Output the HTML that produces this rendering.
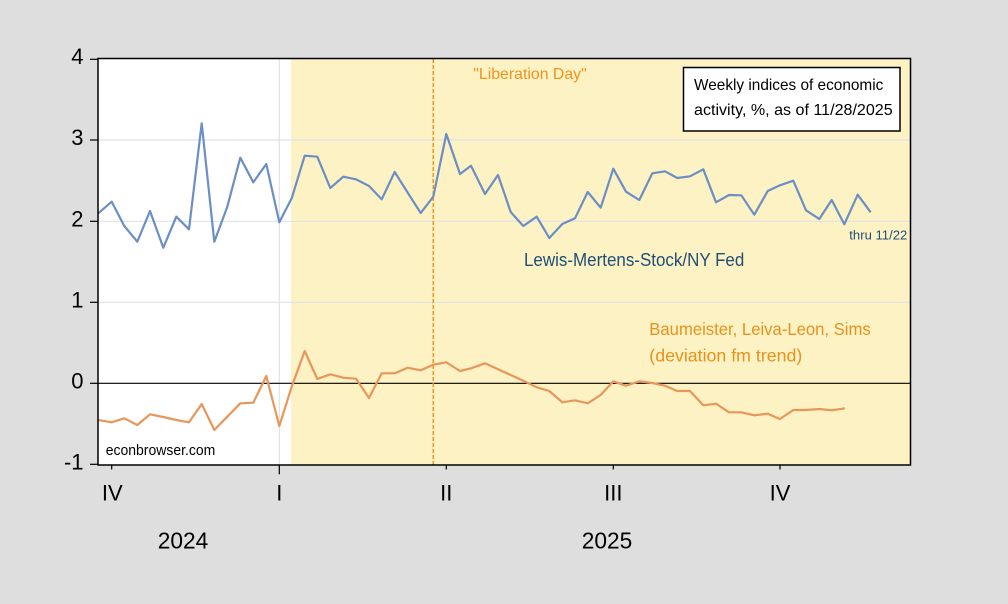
<!DOCTYPE html>
<html>
<head>
<meta charset="utf-8">
<style>
html,body{margin:0;padding:0;background:#dedede;}
svg{display:block;}
text{font-family:"Liberation Sans",sans-serif;}
</style>
</head>
<body>
<svg width="1008" height="604" viewBox="0 0 1008 604" xmlns="http://www.w3.org/2000/svg">
<rect x="0" y="0" width="1008" height="604" fill="#dedede"/>
<!-- plot area -->
<rect x="98" y="58.5" width="812.5" height="406.5" fill="#ffffff"/>
<rect x="291" y="58.5" width="619.5" height="406.5" fill="#fdf2c4"/>
<!-- gridlines -->
<line x1="279.3" y1="58.5" x2="279.3" y2="465" stroke="#e2e2e2" stroke-width="1.2"/>
<line x1="98" y1="140" x2="910.5" y2="140" stroke="#e0e2e8" stroke-width="1.2"/>
<line x1="98" y1="221.3" x2="910.5" y2="221.3" stroke="#e0e2e8" stroke-width="1.2"/>
<line x1="98" y1="302.3" x2="910.5" y2="302.3" stroke="#e0e2e8" stroke-width="1.2"/>
<!-- zero line -->
<line x1="98" y1="383.3" x2="910.5" y2="383.3" stroke="#000" stroke-width="1.2"/>
<!-- dashed liberation day -->
<line x1="433.3" y1="59" x2="433.3" y2="465" stroke="#f39418" stroke-width="1.5" stroke-dasharray="4,2"/>
<!-- blue series -->
<polyline fill="none" stroke="#6b8fc5" stroke-width="2.2" stroke-linejoin="round" points="98.3,213.3 111.7,201.7 124.3,226 137.3,241.7 150,211 163.3,247.7 176.3,216.7 189,229.3 201.7,123.3 214.3,241.7 227.3,206.7 240.3,157.7 253.3,182.3 266.3,164 279.3,222.3 291.7,198.3 304.7,155.7 317.3,156.7 330.3,188 343.3,176.7 356,179.3 369,186 381.7,199.3 394.7,172 407.7,192.7 420.7,213 433.3,196.7 446.3,134 460,174 471,165.7 485,194 498,175 510.7,212 523.3,226 536.7,216.7 549.3,238 562.3,224 575,218.3 587.7,192 600.7,207.7 613.3,168.7 626,191.7 639.3,200 652.3,173.3 665,171.3 677.3,178 690,176.3 703.3,169.3 716,202.3 729,195 741.3,195.3 754.3,214.7 767.7,191 780,185.3 793.3,180.7 806,210.3 819.3,219 831.7,200 844.3,224.3 857.7,194.7 870.7,212.3"/>
<!-- orange series -->
<polyline fill="none" stroke="#e8965a" stroke-width="2.2" stroke-linejoin="round" points="98.3,420 111.7,422.3 124.3,418.3 137.3,425 150,414.3 163.3,417 176.3,420 189,422.3 201.7,404 214.3,430 227.3,416.7 240.3,403.3 253.3,402.7 266.3,376 279.3,426 291.7,386.7 304.7,351 317.3,379 330.3,374.3 343.3,377.7 356,378.7 369,398 381.7,373.3 394.7,373.3 407.7,367.7 420.7,370.3 433.3,364.7 446.3,362.3 460,371 471,368.3 485,363.3 498,369.3 510.7,375 523.3,380.7 536.7,387.3 549.3,391 562.3,402.3 575,400.3 587.7,403.3 600.7,395 613.3,381.3 626,385.7 639.3,381.3 652.3,383 665,385.7 677.3,391 690,391 703.3,405.3 716,403.7 729,412.3 741.3,412.3 754.3,415.3 767.7,413.7 780,419 793.3,410 806,410 819.3,409 831.7,410.3 845,408.3"/>
<!-- plot border -->
<rect x="98" y="58.5" width="812.5" height="406.5" fill="none" stroke="#000" stroke-width="1.5"/>
<!-- y ticks -->
<g stroke="#000" stroke-width="1.2">
<line x1="90" y1="59.3" x2="98" y2="59.3"/>
<line x1="90" y1="140" x2="98" y2="140"/>
<line x1="90" y1="221.3" x2="98" y2="221.3"/>
<line x1="90" y1="302.3" x2="98" y2="302.3"/>
<line x1="90" y1="383.3" x2="98" y2="383.3"/>
<line x1="90" y1="464.3" x2="98" y2="464.3"/>
<!-- x ticks -->
<line x1="111.7" y1="465" x2="111.7" y2="469.5"/>
<line x1="279.3" y1="465" x2="279.3" y2="474.3"/>
<line x1="446.3" y1="465" x2="446.3" y2="469.5"/>
<line x1="613.3" y1="465" x2="613.3" y2="469.5"/>
<line x1="780" y1="465" x2="780" y2="469.5"/>
</g>
<!-- y labels -->
<g font-size="22" fill="#000" text-anchor="end">
<text x="83.5" y="63.8">4</text>
<text x="83.5" y="145">3</text>
<text x="83.5" y="226.3">2</text>
<text x="83.5" y="307.3">1</text>
<text x="83.5" y="388.3">0</text>
<text x="83.5" y="469.3">-1</text>
</g>
<!-- x labels -->
<g font-size="22" fill="#000" text-anchor="middle">
<text x="112.3" y="500.7">IV</text>
<text x="279.3" y="500.7">I</text>
<text x="446.3" y="500.7">II</text>
<text x="613.3" y="500.7">III</text>
<text x="780" y="500.7">IV</text>
<text x="183" y="548.3" font-size="23" textLength="50.5" lengthAdjust="spacingAndGlyphs">2024</text>
<text x="607" y="548.3" font-size="23" textLength="50.5" lengthAdjust="spacingAndGlyphs">2025</text>
</g>
<!-- annotations -->
<text x="473.3" y="79" font-size="16" fill="#f0921e" textLength="113.4" lengthAdjust="spacingAndGlyphs">"Liberation Day"</text>
<text x="524" y="266" font-size="18" fill="#1f4e79" textLength="220.3" lengthAdjust="spacingAndGlyphs">Lewis-Mertens-Stock/NY Fed</text>
<text x="849.3" y="239.3" font-size="13" fill="#1f4e79" textLength="58" lengthAdjust="spacingAndGlyphs">thru 11/22</text>
<text x="649.3" y="335" font-size="17.5" fill="#e8921e" textLength="221.4" lengthAdjust="spacingAndGlyphs">Baumeister, Leiva-Leon, Sims</text>
<text x="649.3" y="361.7" font-size="17.5" fill="#e8921e" textLength="153" lengthAdjust="spacingAndGlyphs">(deviation fm trend)</text>
<text x="105.7" y="455" font-size="15" fill="#000" textLength="109.6" lengthAdjust="spacingAndGlyphs">econbrowser.com</text>
<!-- legend box -->
<rect x="683.5" y="67.5" width="216.5" height="63.5" fill="#ffffff" stroke="#000" stroke-width="1.5"/>
<text x="694" y="90" font-size="16" fill="#000" textLength="189.3" lengthAdjust="spacingAndGlyphs">Weekly indices of economic</text>
<text x="694" y="115" font-size="16" fill="#000" textLength="198.7" lengthAdjust="spacingAndGlyphs">activity, %, as of 11/28/2025</text>
</svg>
</body>
</html>
